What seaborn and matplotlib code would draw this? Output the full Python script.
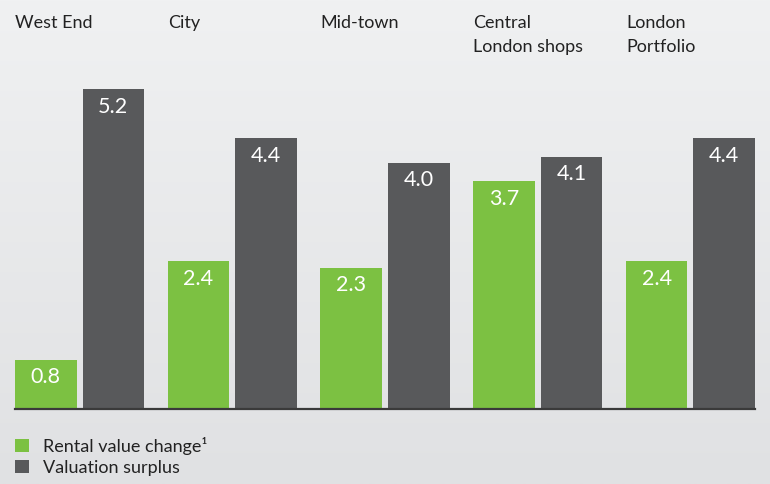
import matplotlib
matplotlib.use("Agg")
import matplotlib.pyplot as plt
import matplotlib.transforms as mtransforms
import numpy as np
import pandas as pd
import seaborn as sns

regions = ["West End", "City", "Mid-town", "Central\nLondon shops", "London\nPortfolio"]
series = ["Rental value change", "Valuation surplus"]
rental_change = [0.8, 2.4, 2.3, 3.7, 2.4]
valuation_surplus = [5.2, 4.4, 4.0, 4.1, 4.4]
legend_labels = ["Rental value change\u00b9", "Valuation surplus"]

GREEN = "#7cc142"
GREY = "#58595b"
GROUP_W = 0.884
GAP = 0.089

df = pd.DataFrame({
    "region": regions * 2,
    "series": [series[0]] * len(regions) + [series[1]] * len(regions),
    "value": rental_change + valuation_surplus,
})

sns.set_style("white")
plt.rcParams["font.family"] = ["Lato", "DejaVu Sans"]

fig = plt.figure(figsize=(7.7, 4.84), dpi=100)

# soft vertical gradient behind everything
bg = fig.add_axes([0, 0, 1, 1], zorder=-1)
grad = np.linspace(0, 1, 256).reshape(-1, 1)
top_c = np.array([0xf0, 0xf1, 0xf2]) / 255
bot_c = np.array([0xe0, 0xe1, 0xe3]) / 255
img = top_c + (bot_c - top_c) * grad[..., None]
bg.imshow(img, aspect="auto", extent=[0, 1, 0, 1])
bg.axis("off")

ax = fig.add_axes([15 / 770, 75 / 484, 740 / 770, 369 / 484])
ax.set_facecolor("none")
sns.barplot(
    data=df, x="region", y="value", hue="series", order=regions, hue_order=series,
    palette=[GREEN, GREY], width=GROUP_W, gap=GAP, saturation=1, linewidth=0, ax=ax,
)

# trim so the outer bars sit right on the ends of the baseline
trim = GAP * GROUP_W / 4
ax.set_xlim(-GROUP_W / 2 + trim, len(regions) - 1 + GROUP_W / 2 - trim)
ax.set_ylim(0, 6.0)
ax.set_xlabel("")
ax.set_ylabel("")
ax.set_xticks([])
ax.set_yticks([])
for side in ["top", "left", "right"]:
    ax.spines[side].set_visible(False)
ax.spines["bottom"].set_color("#3a3a3a")
ax.spines["bottom"].set_linewidth(1.6)
ax.spines["bottom"].set_zorder(5)

# values inside the bars
for container, vals in zip(ax.containers, [rental_change, valuation_surplus]):
    for bar, v in zip(container, vals):
        ax.annotate(f"{v:.1f}", (bar.get_x() + bar.get_width() / 2, v),
                    xytext=(0, -12.5), textcoords="offset points",
                    ha="center", va="center", color="white", fontsize=15.5)

# category names above the groups
label_tf = mtransforms.blended_transform_factory(ax.transData, fig.transFigure)
for i, name in enumerate(regions):
    for j, line in enumerate(name.split("\n")):
        ax.text(i - GROUP_W / 2 + trim, 1 - (28 + 24 * j) / 484, line, transform=label_tf,
                ha="left", va="baseline", fontsize=13, color="#222222")

handles, _ = ax.get_legend_handles_labels()
ax.legend(handles, legend_labels, loc="upper left",
          bbox_to_anchor=(15 / 770, 1 - 437 / 484), bbox_transform=fig.transFigure,
          frameon=False, fontsize=13, handlelength=0.75, handleheight=0.75,
          handletextpad=0.8, labelspacing=0.28, borderpad=0, borderaxespad=0,
          labelcolor="#222222")

fig.savefig("out.png", dpi=100)
